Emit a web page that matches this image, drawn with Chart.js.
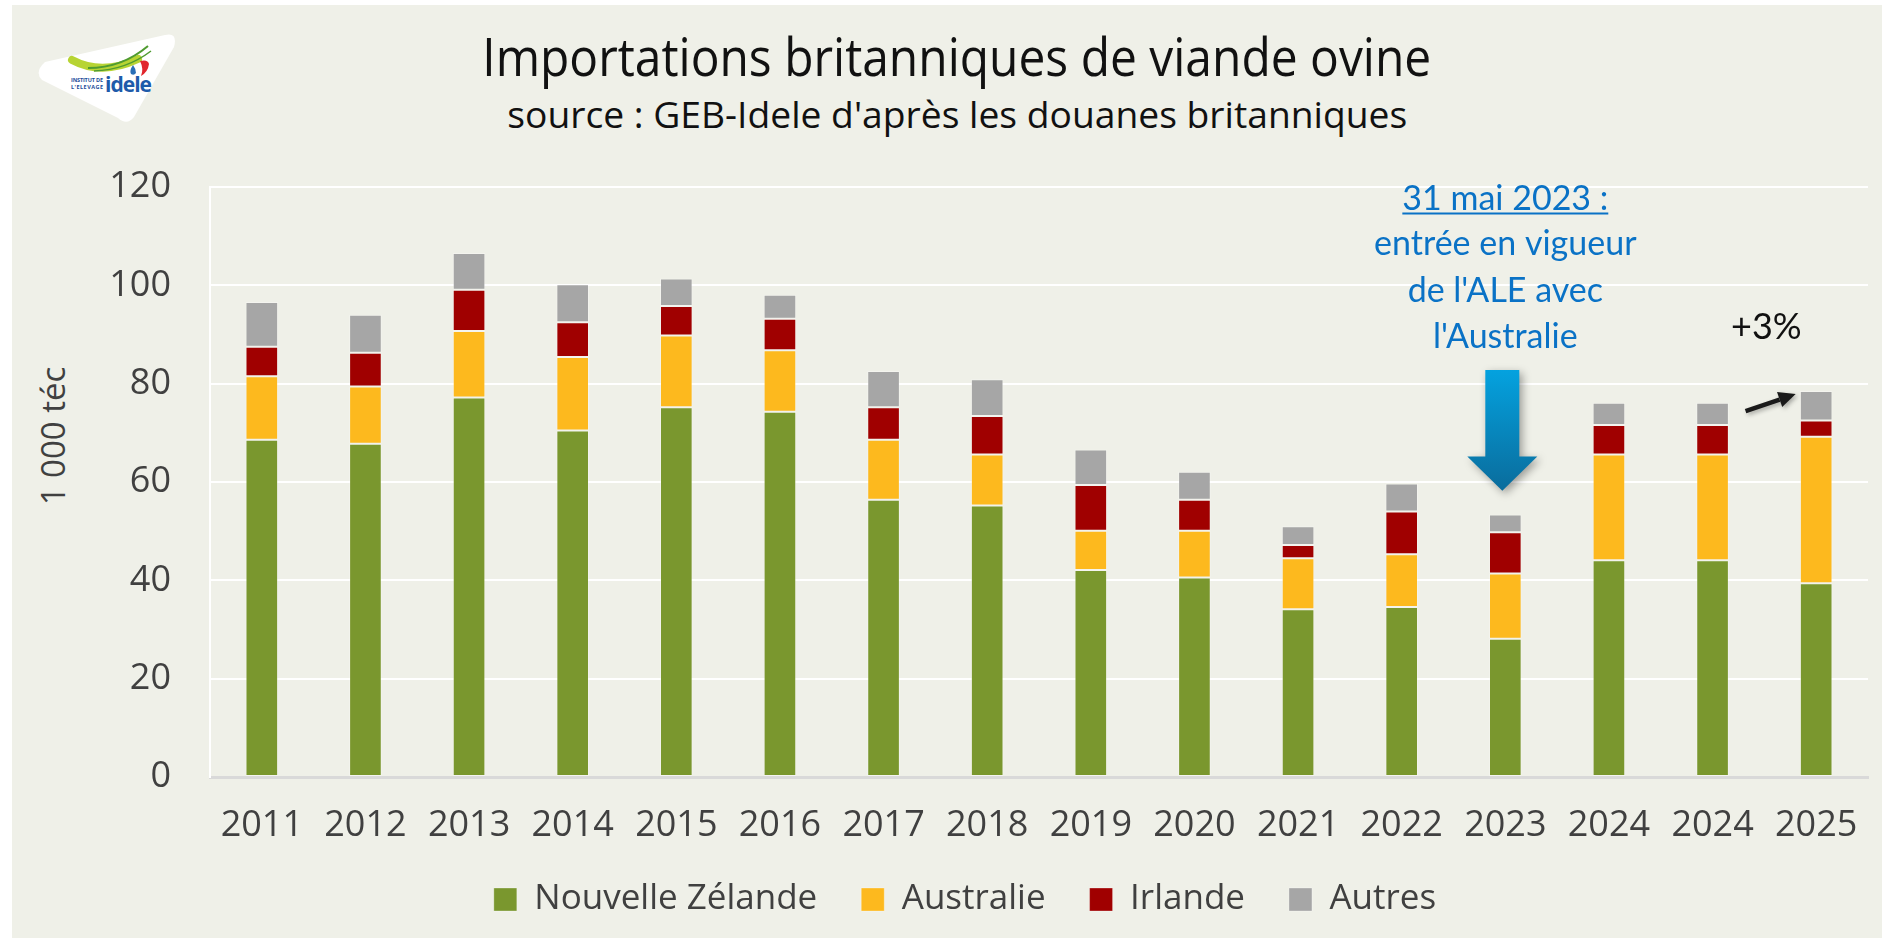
<!DOCTYPE html>
<html lang="fr">
<head>
<meta charset="utf-8">
<title>Importations britanniques de viande ovine</title>
<script src="https://cdn.jsdelivr.net/npm/chart.js@4.4.1/dist/chart.umd.min.js"></script>
<style>
  html, body { margin: 0; padding: 0; background: #fff; }
  body { width: 1896px; height: 945px; position: relative; overflow: hidden; font-family: "Open Sans", sans-serif; }
  #panel { position: absolute; left: 12px; top: 5px; width: 1870px; height: 933px; background: #EFF0E8; }
  #chart { position: absolute; left: 0; top: 0; }
  .head { position: absolute; left: 9px; width: 1896px; text-align: center; color: #111; white-space: nowrap; line-height: 1; }
  .head span { display: inline-block; transform-origin: center; }
  #title { top: 29px; font-size: 53px; }
  #subtitle { top: 95px; font-size: 37px; }
  #ytitle { position: absolute; left: 52px; top: 436px; transform: translate(-50%, -50%) rotate(-90deg);
            font-size: 33px; line-height: 1; color: #404040; white-space: nowrap; }
  #logo { position: absolute; left: 30px; top: 30px; }
</style>
</head>
<body>
<div id="panel"></div>
<svg id="logo" width="150" height="95" viewBox="0 0 150 95">
  <path d="M 15 32 L 135 5 Q 148 2 144 17 L 104 87 Q 97 96 88 88 L 12 50 Q 4 42 15 32 Z" fill="#fff"/>
  <path d="M 42 30 Q 72 46 108 29" stroke="#B7D433" stroke-width="8" fill="none" stroke-linecap="round"/>
  <path d="M 58 38 Q 92 38 118 16" stroke="#4F9B30" stroke-width="2" fill="none"/>
  <path d="M 64 41 Q 96 40 121 21" stroke="#4F9B30" stroke-width="1.5" fill="none"/>
  <path d="M 110 31 Q 118 29 119 34 Q 118 42 111 46 Q 114 39 110 31 Z" fill="#E1262D"/>
  <path d="M 103 35 Q 99 41 101 44 Q 104 46 106 43 Q 106 39 103 35 Z" fill="#2A6FB7"/>
  <text x="41" y="52" font-family="Open Sans" font-weight="700" font-size="5.5" textLength="32" fill="#1E4E9A">INSTITUT DE</text>
  <text x="41" y="59" font-family="Open Sans" font-weight="700" font-size="5.5" textLength="32" fill="#1E4E9A">L'ELEVAGE</text>
  <text x="75" y="62" font-family="Open Sans" font-weight="700" font-size="21" textLength="47" fill="#1E5BAA">idele</text>
</svg>
<div id="title" class="head"><span>Importations britanniques de viande ovine</span></div>
<div id="subtitle" class="head"><span>source : GEB-Idele d'après les douanes britanniques</span></div>
<div id="ytitle">1 000 téc</div>
<canvas id="chart" width="1896" height="945"></canvas>
<script>
  // Data (1 000 téc)
  const years = ["2011", "2012", "2013", "2014", "2015", "2016", "2017", "2018",
                 "2019", "2020", "2021", "2022", "2023", "2024", "2024", "2025"];
  const nouvelleZelande = [68.6, 67.8, 77.2, 70.5, 75.2, 74.3, 56.4, 55.2, 42.1, 40.6, 34.1, 34.6, 28.1, 44.1, 44.1, 39.4];
  const australie       = [12.9, 11.6, 13.5, 14.9, 14.6, 12.5, 12.2, 10.4,  8.0,  9.5, 10.4, 10.7, 13.3, 21.5, 21.5, 29.8];
  const irlande         = [ 6.0,  6.9,  8.4,  7.1,  6.0,  6.4,  6.6,  7.8,  9.3,  6.3,  2.7,  8.7,  8.4,  6.0,  6.0,  3.3];
  const autres          = [ 9.1,  7.7,  7.5,  7.7,  5.6,  4.9,  7.4,  7.5,  7.2,  5.7,  3.8,  5.7,  3.6,  4.5,  4.5,  6.0];
  const yTicks = [0, 20, 40, 60, 80, 100, 120];

  const FONT = "Open Sans";
  const TEXT = "#404040";

  const fitWidth = (sel, target) => {
    const el = document.querySelector(sel + " span");
    el.style.transform = `scaleX(${target / el.getBoundingClientRect().width})`;
  };
  fitWidth("#title", 949);
  fitWidth("#subtitle", 900);

  // Annotations: ALE note over 2023, +3% over the last bar
  const ALE_INDEX = 12;
  const aleLines = ["31 mai 2023 :", "entrée en vigueur", "de l'ALE avec", "l'Australie"];
  const aleBaselines = [115.4, 106.2, 96.7, 87.3];

  const annotations = {
    id: "annotations",
    afterDraw(chart) {
      const { ctx, scales: { x, y } } = chart;
      const cx = x.getPixelForValue(ALE_INDEX);
      ctx.save();

      // blue text
      ctx.fillStyle = "#0A72C6";
      ctx.strokeStyle = "#0A72C6";
      ctx.font = "34px Lato";
      ctx.textAlign = "center";
      ctx.textBaseline = "alphabetic";
      aleLines.forEach((t, i) => {
        const by = y.getPixelForValue(aleBaselines[i]);
        ctx.fillText(t, cx, by);
        if (i === 0) {
          const w = ctx.measureText(t).width;
          ctx.lineWidth = 2;
          ctx.beginPath();
          ctx.moveTo(cx - w / 2, by + 4);
          ctx.lineTo(cx + w / 2, by + 4);
          ctx.stroke();
        }
      });

      // blue arrow
      const ax = cx - 3;
      const top = y.getPixelForValue(82.8), neck = y.getPixelForValue(65.2), tip = y.getPixelForValue(58.2);
      const g = ctx.createLinearGradient(0, top, 0, tip);
      g.addColorStop(0, "#04A2DF");
      g.addColorStop(1, "#0A6C9C");
      ctx.shadowColor = "rgba(0,0,0,0.35)";
      ctx.shadowBlur = 8;
      ctx.shadowOffsetX = 3;
      ctx.shadowOffsetY = 3;
      ctx.beginPath();
      ctx.moveTo(ax - 17, top);
      ctx.lineTo(ax + 17, top);
      ctx.lineTo(ax + 17, neck);
      ctx.lineTo(ax + 35, neck);
      ctx.lineTo(ax, tip);
      ctx.lineTo(ax - 35, neck);
      ctx.lineTo(ax - 17, neck);
      ctx.closePath();
      ctx.fillStyle = g;
      ctx.fill();

      // +3%
      const x14 = x.getPixelForValue(14), x15 = x.getPixelForValue(15);
      ctx.shadowColor = "transparent";
      ctx.fillStyle = "#111";
      ctx.font = "36px Lato";
      ctx.fillText("+3%", (x14 + x15) / 2 + 2, y.getPixelForValue(89));

      // small black arrow
      const x0 = x14 + 33, y0 = y.getPixelForValue(74.4);
      const x1 = x15 - 20.5, y1 = y.getPixelForValue(77.9);
      const ang = Math.atan2(y1 - y0, x1 - x0);
      const hl = 17, hw = 8;
      const bx = x1 - hl * Math.cos(ang), by = y1 - hl * Math.sin(ang);
      ctx.shadowColor = "rgba(0,0,0,0.3)";
      ctx.shadowBlur = 4;
      ctx.shadowOffsetX = 2;
      ctx.shadowOffsetY = 2;
      ctx.strokeStyle = "#1a1a1a";
      ctx.fillStyle = "#1a1a1a";
      ctx.lineWidth = 4.5;
      ctx.beginPath();
      ctx.moveTo(x0, y0);
      ctx.lineTo(bx, by);
      ctx.stroke();
      ctx.beginPath();
      ctx.moveTo(x1, y1);
      ctx.lineTo(bx + hw * Math.sin(ang), by - hw * Math.cos(ang));
      ctx.lineTo(bx - hw * Math.sin(ang), by + hw * Math.cos(ang));
      ctx.closePath();
      ctx.fill();
      ctx.restore();
    }
  };

  const series = (label, data, color) => ({
    label, data,
    backgroundColor: color,
    borderColor: "rgba(255,255,255,0.3)",
    borderWidth: 1,
    borderSkipped: false,
    barPercentage: 0.315,
    categoryPercentage: 1
  });

  new Chart(document.querySelector("#chart"), {
    type: "bar",
    data: {
      labels: years,
      datasets: [
        series("Nouvelle Zélande", nouvelleZelande, "#7A972E"),
        series("Australie", australie, "#FDB91E"),
        series("Irlande", irlande, "#A00000"),
        series("Autres", autres, "#A6A6A6")
      ]
    },
    options: {
      responsive: false,
      devicePixelRatio: 1,
      animation: false,
      layout: { padding: { left: 62, right: 28, top: 187, bottom: 18 } },
      scales: {
        x: {
          stacked: true,
          grid: { display: false, drawTicks: false },
          border: { color: "#D9D9D9", width: 3 },
          ticks: { padding: 27, color: TEXT, font: { family: FONT, size: 36 }, maxRotation: 0, autoSkip: false },
          afterFit: (s) => { s.height = 61; }
        },
        y: {
          stacked: true,
          min: 0,
          max: 120,
          afterBuildTicks: (s) => { s.ticks = yTicks.map(v => ({ value: v })); },
          ticks: { padding: 39, color: TEXT, font: { family: FONT, size: 36 } },
          grid: { color: (c) => c.tick && c.tick.value === 0 ? "rgba(0,0,0,0)" : "#FFFFFF", lineWidth: 2, drawTicks: false },
          border: { display: true, color: "#FFFFFF", width: 2 },
          afterFit: (s) => { s.width = 148; }
        }
      },
      plugins: {
        legend: {
          position: "bottom",
          labels: {
            boxWidth: 23, boxHeight: 23, padding: 44,
            color: TEXT, font: { family: FONT, size: 35 }
          }
        },
        tooltip: { enabled: false }
      }
    },
    plugins: [annotations]
  });
</script>
</body>
</html>
